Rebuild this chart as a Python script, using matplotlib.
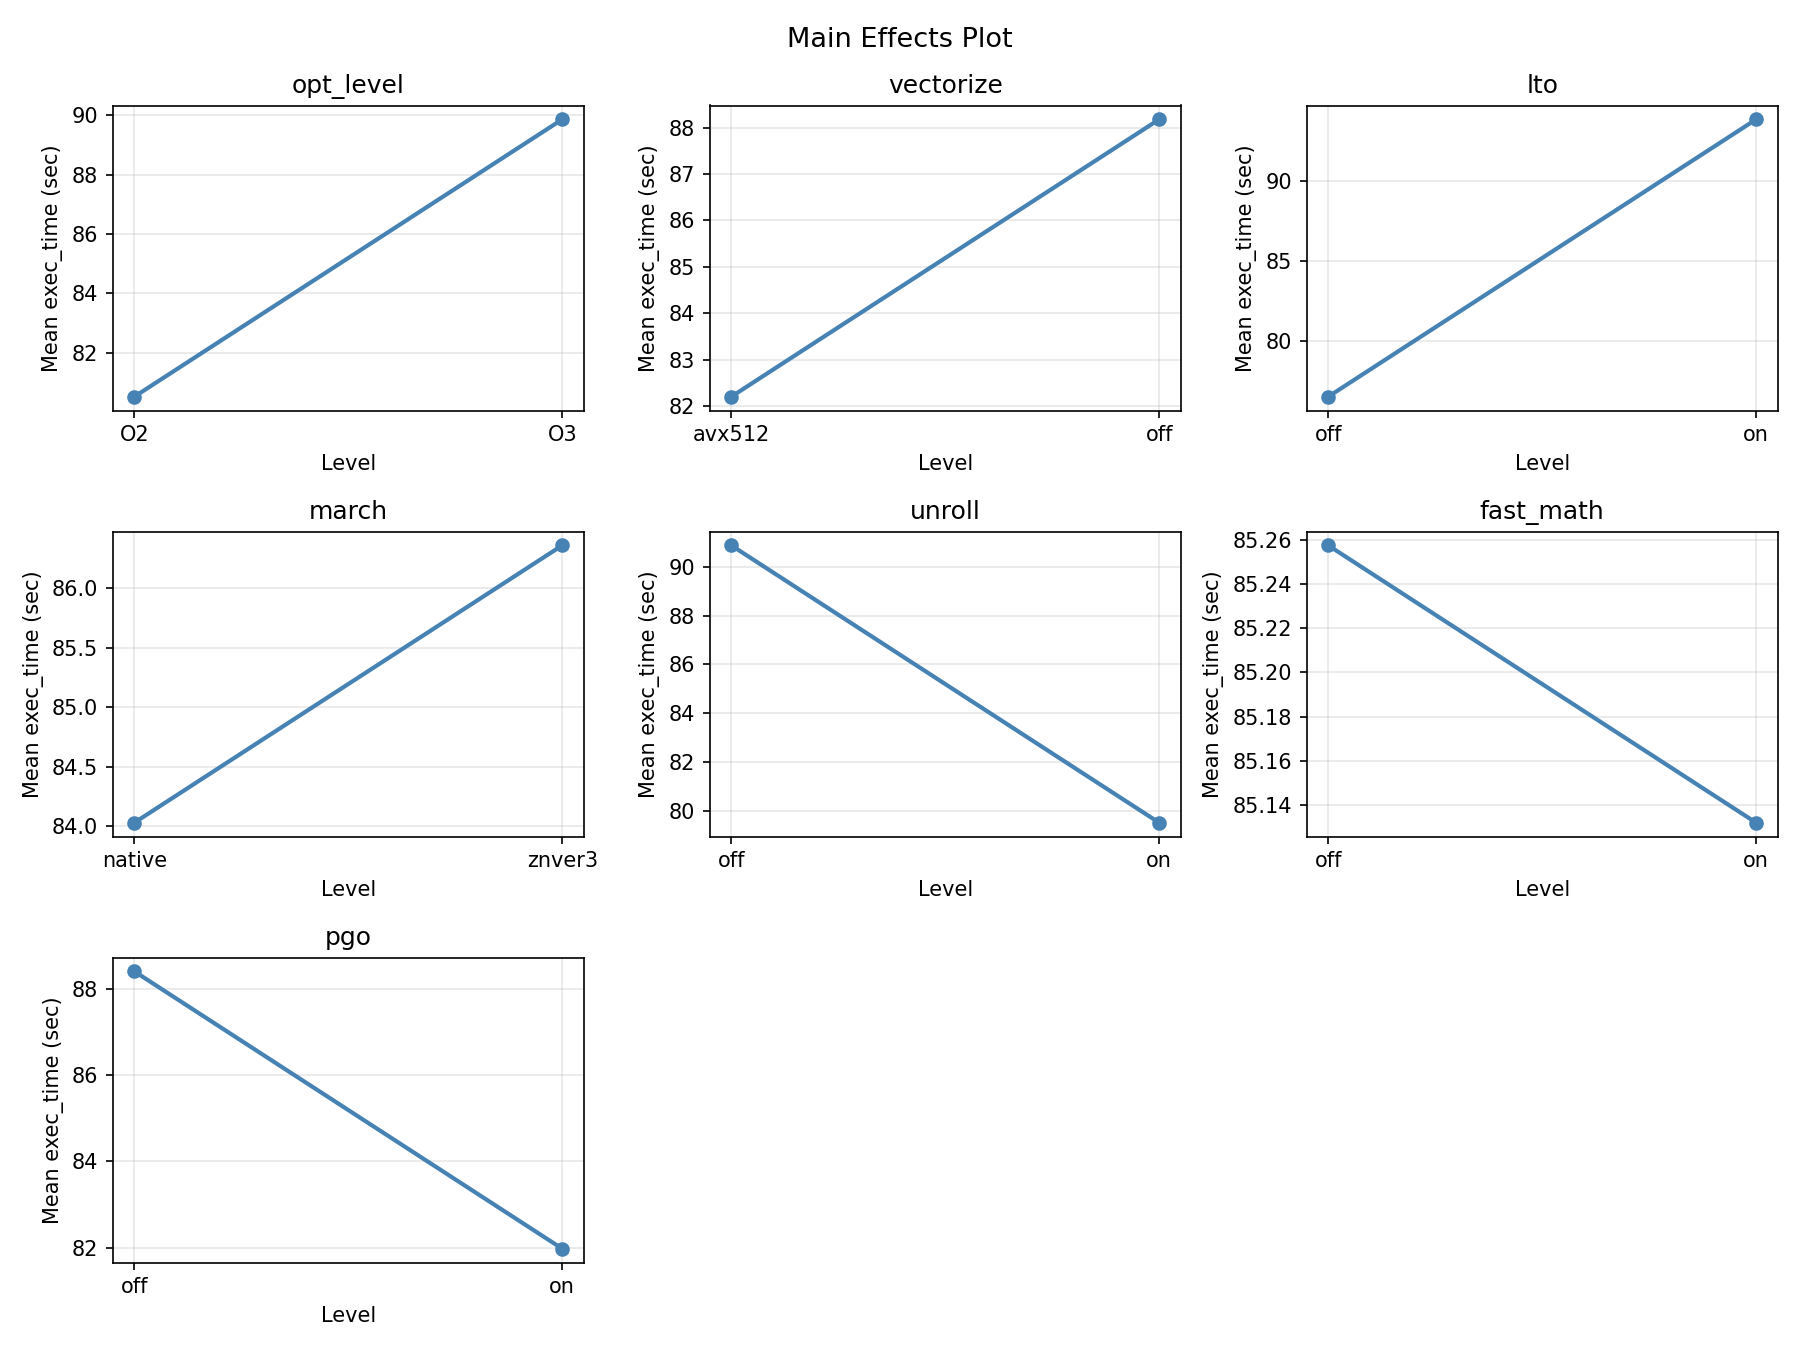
import matplotlib
matplotlib.use("Agg")
import matplotlib.pyplot as plt

# Mean exec_time per factor level (balanced design, grand mean ~85.19)
factors = ["opt_level", "vectorize", "lto", "march", "unroll", "fast_math", "pgo"]
levels = [
    ["O2", "O3"],
    ["avx512", "off"],
    ["off", "on"],
    ["native", "znver3"],
    ["off", "on"],
    ["off", "on"],
    ["off", "on"],
]
means = [
    [80.52, 89.86],
    [82.20, 88.18],
    [76.50, 93.89],
    [84.03, 86.36],
    [90.88, 79.51],
    [85.2575, 85.1320],
    [88.40, 81.98],
]


def main_effects_plot(output_path="out.png"):
    fig, axes = plt.subplots(3, 3, figsize=(12, 9))
    axes = axes.flatten()

    for ax, name, lv, vals in zip(axes, factors, levels, means):
        ax.plot(lv, vals, marker="o", color="steelblue", linewidth=2, markersize=6)
        ax.set_title(name)
        ax.set_xlabel("Level")
        ax.set_ylabel("Mean exec_time (sec)")
        ax.grid(True, alpha=0.3)

    # Hide unused panels
    for ax in axes[len(factors):]:
        ax.axis("off")

    fig.suptitle("Main Effects Plot", fontsize=13)
    plt.tight_layout()
    plt.savefig(output_path, dpi=150)
    plt.close()


if __name__ == "__main__":
    main_effects_plot()
